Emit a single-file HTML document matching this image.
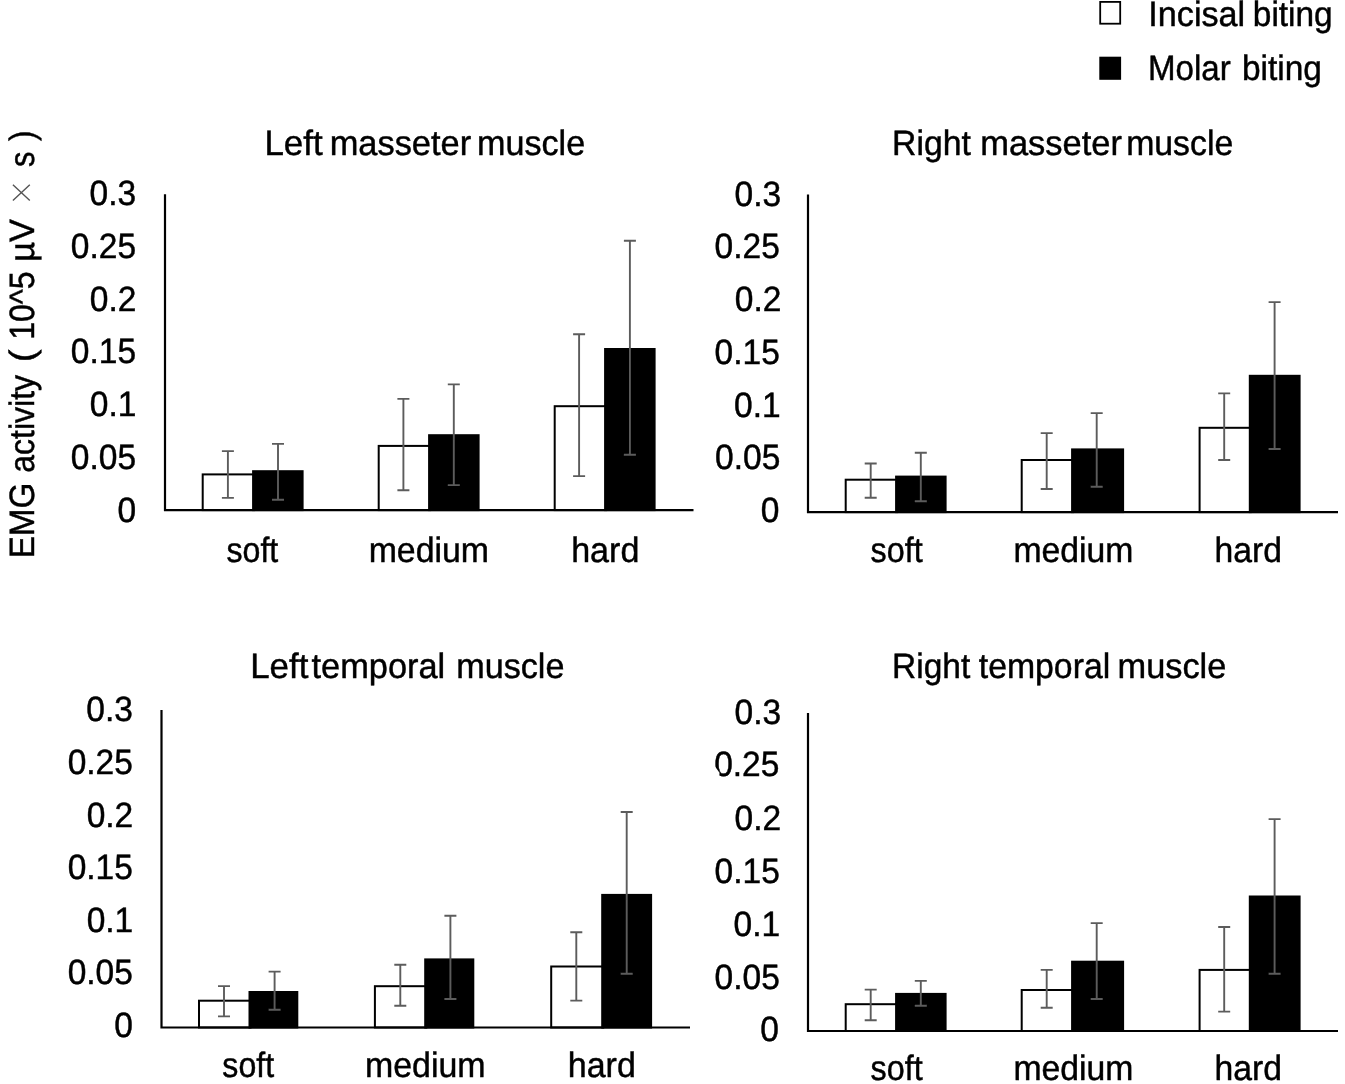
<!DOCTYPE html>
<html><head><meta charset="utf-8"><title>EMG activity</title>
<style>html,body{margin:0;padding:0;background:#fff;overflow:hidden}svg{display:block}text{font-family:"Liberation Sans", sans-serif;font-size:34.5px;fill:#000;stroke:#000;stroke-width:0.45;text-rendering:geometricPrecision}</style></head><body>
<svg width="1345" height="1084" viewBox="0 0 1345 1084">
<defs><filter id="soft" x="0" y="0" width="1345" height="1084" filterUnits="userSpaceOnUse"><feGaussianBlur stdDeviation="0.45"/></filter></defs>
<g filter="url(#soft)">
<rect x="-5" y="-5" width="1355" height="1094" fill="#fff"/>
<!-- panel TL -->
<rect x="202.70" y="474.40" width="51.40" height="35.70" fill="#fff" stroke="#000" stroke-width="2"/>
<rect x="252.10" y="470.20" width="51.50" height="40.90" fill="#000"/>
<rect x="378.70" y="445.90" width="51.40" height="64.20" fill="#fff" stroke="#000" stroke-width="2"/>
<rect x="428.10" y="434.20" width="51.50" height="76.90" fill="#000"/>
<rect x="554.70" y="406.20" width="51.40" height="103.90" fill="#fff" stroke="#000" stroke-width="2"/>
<rect x="604.10" y="348.00" width="51.50" height="163.10" fill="#000"/>
<path d="M165.00 194.20 V510.10 H693.50" fill="none" stroke="#000" stroke-width="2.2"/>
<path d="M227.90 451.10 V497.90 M221.90 451.10 H233.90 M221.90 497.90 H233.90" fill="none" stroke="#5c5c5c" stroke-width="1.9"/>
<path d="M278.00 443.90 V499.70 M272.00 443.90 H284.00 M272.00 499.70 H284.00" fill="none" stroke="#5c5c5c" stroke-width="1.9"/>
<path d="M403.40 398.90 V490.30 M397.40 398.90 H409.40 M397.40 490.30 H409.40" fill="none" stroke="#5c5c5c" stroke-width="1.9"/>
<path d="M453.80 384.40 V485.10 M447.80 384.40 H459.80 M447.80 485.10 H459.80" fill="none" stroke="#5c5c5c" stroke-width="1.9"/>
<path d="M579.10 334.30 V476.10 M573.10 334.30 H585.10 M573.10 476.10 H585.10" fill="none" stroke="#5c5c5c" stroke-width="1.9"/>
<path d="M629.90 240.70 V454.80 M623.90 240.70 H635.90 M623.90 454.80 H635.90" fill="none" stroke="#5c5c5c" stroke-width="1.9"/>
<text transform="translate(89.50 204.72) scale(0.9720 1.020)">0.3</text>
<text transform="translate(70.85 257.62) scale(0.9720 1.020)">0.25</text>
<text transform="translate(89.83 310.52) scale(0.9720 1.020)">0.2</text>
<text transform="translate(70.85 363.42) scale(0.9720 1.020)">0.15</text>
<text transform="translate(89.83 416.32) scale(0.9720 1.020)">0.1</text>
<text transform="translate(70.85 469.22) scale(0.9720 1.020)">0.05</text>
<text transform="translate(117.46 522.12) scale(0.9720 1.020)">0</text>
<text transform="translate(264.40 155.40) scale(1.0135 1.020)">Left</text>
<text transform="translate(329.64 155.40) scale(0.9974 1.020)">masseter</text>
<text transform="translate(477.05 155.40) scale(0.9890 1.020)">muscle</text>
<text transform="translate(226.46 561.50) scale(0.9310 1.020)">soft</text>
<text transform="translate(368.67 561.50) scale(0.9809 1.020)">medium</text>
<text transform="translate(571.16 561.50) scale(0.9870 1.020)">hard</text>
<!-- panel TR -->
<rect x="845.70" y="479.70" width="51.40" height="32.40" fill="#fff" stroke="#000" stroke-width="2"/>
<rect x="895.10" y="475.60" width="51.50" height="37.50" fill="#000"/>
<rect x="1021.70" y="460.00" width="51.40" height="52.10" fill="#fff" stroke="#000" stroke-width="2"/>
<rect x="1071.10" y="448.40" width="53.00" height="64.70" fill="#000"/>
<rect x="1199.60" y="427.80" width="51.20" height="84.30" fill="#fff" stroke="#000" stroke-width="2"/>
<rect x="1248.80" y="374.80" width="51.80" height="138.30" fill="#000"/>
<path d="M808.00 194.50 V512.10 H1338.00" fill="none" stroke="#000" stroke-width="2.2"/>
<path d="M870.70 463.50 V497.70 M864.70 463.50 H876.70 M864.70 497.70 H876.70" fill="none" stroke="#5c5c5c" stroke-width="1.9"/>
<path d="M920.80 452.80 V501.30 M914.80 452.80 H926.80 M914.80 501.30 H926.80" fill="none" stroke="#5c5c5c" stroke-width="1.9"/>
<path d="M1046.70 433.10 V489.00 M1040.70 433.10 H1052.70 M1040.70 489.00 H1052.70" fill="none" stroke="#5c5c5c" stroke-width="1.9"/>
<path d="M1096.70 413.10 V486.70 M1090.70 413.10 H1102.70 M1090.70 486.70 H1102.70" fill="none" stroke="#5c5c5c" stroke-width="1.9"/>
<path d="M1224.20 393.40 V460.00 M1218.20 393.40 H1230.20 M1218.20 460.00 H1230.20" fill="none" stroke="#5c5c5c" stroke-width="1.9"/>
<path d="M1274.60 302.10 V449.00 M1268.60 302.10 H1280.60 M1268.60 449.00 H1280.60" fill="none" stroke="#5c5c5c" stroke-width="1.9"/>
<text transform="translate(734.50 205.72) scale(0.9720 1.020)">0.3</text>
<text transform="translate(714.55 258.22) scale(0.9720 1.020)">0.25</text>
<text transform="translate(734.83 311.22) scale(0.9720 1.020)">0.2</text>
<text transform="translate(714.55 363.82) scale(0.9720 1.020)">0.15</text>
<text transform="translate(734.03 416.62) scale(0.9720 1.020)">0.1</text>
<text transform="translate(715.05 469.42) scale(0.9720 1.020)">0.05</text>
<text transform="translate(760.66 522.22) scale(0.9720 1.020)">0</text>
<text transform="translate(892.11 155.30) scale(0.9762 1.020)">Right</text>
<text transform="translate(980.23 155.30) scale(0.9989 1.020)">masseter</text>
<text transform="translate(1126.17 155.30) scale(0.9796 1.020)">muscle</text>
<text transform="translate(870.55 562.00) scale(0.9365 1.020)">soft</text>
<text transform="translate(1013.48 562.00) scale(0.9775 1.020)">medium</text>
<text transform="translate(1214.58 562.00) scale(0.9763 1.020)">hard</text>
<!-- panel BL -->
<rect x="199.00" y="1000.70" width="51.50" height="26.80" fill="#fff" stroke="#000" stroke-width="2"/>
<rect x="248.50" y="991.00" width="49.80" height="37.50" fill="#000"/>
<rect x="374.90" y="986.20" width="51.30" height="41.30" fill="#fff" stroke="#000" stroke-width="2"/>
<rect x="424.20" y="958.40" width="50.10" height="70.10" fill="#000"/>
<rect x="551.20" y="966.50" width="52.00" height="61.00" fill="#fff" stroke="#000" stroke-width="2"/>
<rect x="601.20" y="893.90" width="50.90" height="134.60" fill="#000"/>
<path d="M161.50 710.00 V1027.50 H690.00" fill="none" stroke="#000" stroke-width="2.2"/>
<path d="M224.00 986.10 V1016.40 M218.00 986.10 H230.00 M218.00 1016.40 H230.00" fill="none" stroke="#5c5c5c" stroke-width="1.9"/>
<path d="M274.60 971.60 V1009.70 M268.60 971.60 H280.60 M268.60 1009.70 H280.60" fill="none" stroke="#5c5c5c" stroke-width="1.9"/>
<path d="M400.30 964.80 V1005.80 M394.30 964.80 H406.30 M394.30 1005.80 H406.30" fill="none" stroke="#5c5c5c" stroke-width="1.9"/>
<path d="M450.40 915.70 V999.00 M444.40 915.70 H456.40 M444.40 999.00 H456.40" fill="none" stroke="#5c5c5c" stroke-width="1.9"/>
<path d="M576.30 932.20 V1000.60 M570.30 932.20 H582.30 M570.30 1000.60 H582.30" fill="none" stroke="#5c5c5c" stroke-width="1.9"/>
<path d="M626.70 812.00 V973.80 M620.70 812.00 H632.70 M620.70 973.80 H632.70" fill="none" stroke="#5c5c5c" stroke-width="1.9"/>
<text transform="translate(86.30 721.22) scale(0.9720 1.020)">0.3</text>
<text transform="translate(67.65 773.87) scale(0.9720 1.020)">0.25</text>
<text transform="translate(86.63 826.52) scale(0.9720 1.020)">0.2</text>
<text transform="translate(67.65 879.17) scale(0.9720 1.020)">0.15</text>
<text transform="translate(86.63 931.82) scale(0.9720 1.020)">0.1</text>
<text transform="translate(67.65 984.47) scale(0.9720 1.020)">0.05</text>
<text transform="translate(114.26 1037.12) scale(0.9720 1.020)">0</text>
<text transform="translate(250.21 677.80) scale(1.0098 1.020)">Left</text>
<text transform="translate(311.56 677.80) scale(0.9959 1.020)">temporal</text>
<text transform="translate(456.25 677.80) scale(0.9900 1.020)">muscle</text>
<text transform="translate(222.36 1076.70) scale(0.9310 1.020)">soft</text>
<text transform="translate(364.96 1076.70) scale(0.9835 1.020)">medium</text>
<text transform="translate(567.76 1076.70) scale(0.9855 1.020)">hard</text>
<!-- panel BR -->
<rect x="845.70" y="1004.20" width="51.40" height="26.80" fill="#fff" stroke="#000" stroke-width="2"/>
<rect x="895.10" y="992.90" width="51.50" height="39.10" fill="#000"/>
<rect x="1021.70" y="990.00" width="51.40" height="41.00" fill="#fff" stroke="#000" stroke-width="2"/>
<rect x="1071.10" y="960.70" width="53.00" height="71.30" fill="#000"/>
<rect x="1199.60" y="969.90" width="51.20" height="61.10" fill="#fff" stroke="#000" stroke-width="2"/>
<rect x="1248.80" y="895.50" width="51.80" height="136.50" fill="#000"/>
<path d="M808.00 712.90 V1031.00 H1338.00" fill="none" stroke="#000" stroke-width="2.2"/>
<path d="M870.70 989.60 V1020.30 M864.70 989.60 H876.70 M864.70 1020.30 H876.70" fill="none" stroke="#5c5c5c" stroke-width="1.9"/>
<path d="M920.80 980.90 V1005.80 M914.80 980.90 H926.80 M914.80 1005.80 H926.80" fill="none" stroke="#5c5c5c" stroke-width="1.9"/>
<path d="M1046.70 969.90 V1007.70 M1040.70 969.90 H1052.70 M1040.70 1007.70 H1052.70" fill="none" stroke="#5c5c5c" stroke-width="1.9"/>
<path d="M1096.70 923.10 V999.00 M1090.70 923.10 H1102.70 M1090.70 999.00 H1102.70" fill="none" stroke="#5c5c5c" stroke-width="1.9"/>
<path d="M1224.20 927.00 V1011.60 M1218.20 927.00 H1230.20 M1218.20 1011.60 H1230.20" fill="none" stroke="#5c5c5c" stroke-width="1.9"/>
<path d="M1274.60 819.10 V973.80 M1268.60 819.10 H1280.60 M1268.60 973.80 H1280.60" fill="none" stroke="#5c5c5c" stroke-width="1.9"/>
<text transform="translate(734.50 724.12) scale(0.9720 1.020)">0.3</text>
<text transform="translate(714.15 776.22) scale(0.9720 1.020)">0.25</text>
<text transform="translate(734.53 829.92) scale(0.9720 1.020)">0.2</text>
<text transform="translate(714.55 882.82) scale(0.9720 1.020)">0.15</text>
<text transform="translate(733.53 935.72) scale(0.9720 1.020)">0.1</text>
<text transform="translate(714.55 988.62) scale(0.9720 1.020)">0.05</text>
<text transform="translate(760.26 1040.52) scale(0.9720 1.020)">0</text>
<text transform="translate(892.12 677.60) scale(0.9698 1.020)">Right</text>
<text transform="translate(978.76 677.60) scale(0.9792 1.020)">temporal</text>
<text transform="translate(1117.54 677.60) scale(0.9957 1.020)">muscle</text>
<text transform="translate(870.55 1079.50) scale(0.9365 1.020)">soft</text>
<text transform="translate(1013.48 1079.50) scale(0.9775 1.020)">medium</text>
<text transform="translate(1214.58 1079.50) scale(0.9763 1.020)">hard</text>
<path d="M711 765.3 L714.7 766.0 L719.5 772.8 L719.2 778 L711 778 Z" fill="#fff"/>
<!-- legend -->
<rect x="1100.2" y="1.9" width="20" height="21.8" fill="#fff" stroke="#000" stroke-width="1.8"/>
<rect x="1099.3" y="56.7" width="21.8" height="23.1" fill="#000"/>
<text transform="translate(1148.32 25.80) scale(0.9909 1.020)">Incisal</text>
<text transform="translate(1252.80 25.80) scale(0.9685 1.020)">biting</text>
<text transform="translate(1147.95 80.00) scale(0.9596 1.020)">Molar</text>
<text transform="translate(1241.89 80.00) scale(0.9698 1.020)">biting</text>
<!-- y axis label -->
<text transform="translate(34.40 558.36) rotate(-90) scale(0.9635 1.020)">EMG</text>
<text transform="translate(34.40 472.68) rotate(-90) scale(0.9274 1.020)">activity</text>
<text transform="translate(34.40 362.21) rotate(-90) scale(1.1165 1.020)">(</text>
<text transform="translate(34.40 339.84) rotate(-90) scale(0.9288 1.020)">10^5</text>
<text transform="translate(34.40 261.66) rotate(-90) scale(0.9946 1.020)">µV</text>
<text transform="translate(34.40 166.92) rotate(-90) scale(0.8953 1.020)">s</text>
<text transform="translate(34.40 140.90) rotate(-90) scale(0.9110 1.020)">)</text>
<path d="M12.9 184.7 L29.8 200.5 M29.8 184.7 L12.9 200.5" fill="none" stroke="#555" stroke-width="1.4"/>
</g></svg></body></html>
